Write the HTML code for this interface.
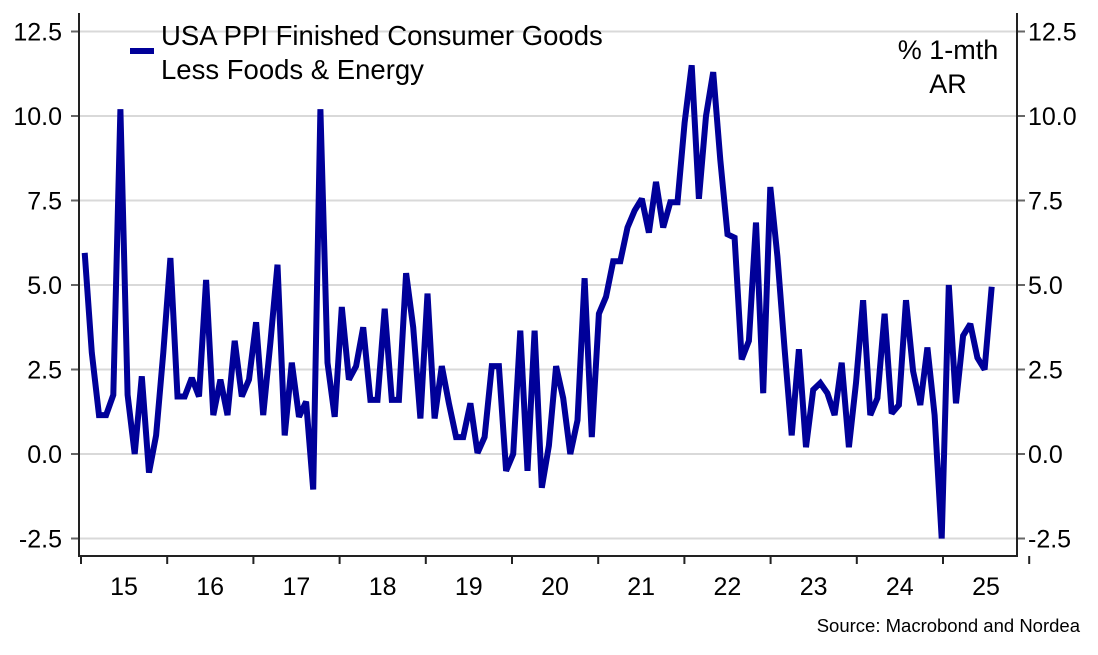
<!DOCTYPE html>
<html><head><meta charset="utf-8"><style>
html,body{margin:0;padding:0;background:#fff;}
svg{display:block;font-family:"Liberation Sans",sans-serif;}
</style></head><body>
<svg id="chart" width="1098" height="655" viewBox="0 0 1098 655" xmlns="http://www.w3.org/2000/svg">
<g id="grid"></g>
<g id="axes"></g>
<path id="series" fill="none" stroke="#000099" stroke-width="6" stroke-linejoin="miter" stroke-miterlimit="1.6"/>
<g>
<line x1="130" y1="51" x2="154" y2="51" stroke="#000099" stroke-width="6"/>
<text x="161" y="45" font-size="27.5" fill="#000">USA PPI Finished Consumer Goods</text>
<text x="161" y="79" font-size="27.5" fill="#000">Less Foods &amp; Energy</text>
</g>
<text x="948" y="59" font-size="27" text-anchor="middle">% 1-mth</text>
<text x="948" y="93" font-size="27" text-anchor="middle">AR</text>
<text x="1080" y="632" font-size="18.5" text-anchor="end">Source: Macrobond and Nordea</text>
</svg>
<script>
const values = [5.95,3.0,1.15,1.15,1.75,10.2,1.75,0.0,2.3,-0.55,0.55,3.0,5.8,1.7,1.7,2.25,1.7,5.15,1.15,2.2,1.15,3.35,1.7,2.2,3.9,1.15,3.3,5.6,0.55,2.7,1.1,1.55,-1.05,10.2,2.7,1.1,4.35,2.2,2.6,3.75,1.6,1.6,4.3,1.6,1.6,5.35,3.75,1.05,4.75,1.05,2.6,1.5,0.5,0.5,1.5,0.03,0.5,2.6,2.6,-0.5,0.0,3.65,-0.5,3.65,-1.0,0.25,2.6,1.65,0.0,1.0,5.2,0.5,4.15,4.65,5.7,5.7,6.7,7.2,7.55,6.55,8.05,6.7,7.45,7.45,9.8,11.5,7.55,10.0,11.3,8.7,6.5,6.4,2.8,3.35,6.85,1.8,7.9,5.85,3.1,0.55,3.1,0.2,1.9,2.1,1.8,1.15,2.7,0.2,2.1,4.55,1.15,1.65,4.15,1.2,1.45,4.55,2.45,1.45,3.15,1.15,-2.5,5.0,1.5,3.5,3.85,2.85,2.5,4.95];
const yTicks = [12.5,10.0,7.5,5.0,2.5,0.0,-2.5];
const yearLabels = ["15","16","17","18","19","20","21","22","23","24","25"];

const NS="http://www.w3.org/2000/svg";
const X0=84.7, X1=991.7, L=79, R=1017, T=13, B=556;
function yS(v){return 454-(v)*33.8;}
function xS(i){return X0+(X1-X0)*i/(values.length-1);}
function yearX(k){return 81+86.2*k;}
function mk(tag,attrs,parent){const e=document.createElementNS(NS,tag);for(const k in attrs)e.setAttribute(k,attrs[k]);parent.appendChild(e);return e;}
const grid=document.getElementById('grid'), axes=document.getElementById('axes'), svg=document.getElementById('chart');
yTicks.forEach(v=>{
  const y=yS(v);
  const g=mk('line',{x1:L,x2:R,y1:y,y2:y,stroke:'#d9d9d9','stroke-width':2},grid);
  
  
  mk('line',{x1:L-8,x2:L,y1:y,y2:y,stroke:'#666','stroke-width':2},axes);
  mk('line',{x1:R,x2:R+8,y1:y,y2:y,stroke:'#666','stroke-width':2},axes);
  const lab=v.toFixed(1);
  const t1=mk('text',{x:62,y:y+9,'font-size':25,'text-anchor':'end'},svg);t1.textContent=lab;
  
  
  const t2=mk('text',{x:1028,y:y+9,'font-size':25,'text-anchor':'start'},svg);t2.textContent=lab;
  
  
});
mk('line',{x1:L,x2:L,y1:T,y2:B+1,stroke:'#222','stroke-width':2},axes);
mk('line',{x1:R,x2:R,y1:T,y2:B+1,stroke:'#222','stroke-width':2},axes);
mk('line',{x1:L,x2:R,y1:B,y2:B,stroke:'#222','stroke-width':2},axes);
yearLabels.forEach((lab,k)=>{
  const x=yearX(k);
  mk('line',{x1:x,x2:x,y1:B,y2:B+8,stroke:'#222','stroke-width':2},axes);
  const t=mk('text',{x:x+43,y:595,'font-size':25,'text-anchor':'middle'},svg);t.textContent=lab;
  
  
});
mk('line',{x1:yearX(11),x2:yearX(11),y1:B,y2:B+8,stroke:'#222','stroke-width':2},axes);
document.getElementById('series').setAttribute('d',values.map((v,i)=>(i?'L':'M')+xS(i).toFixed(1)+','+yS(v).toFixed(1)).join(''));
</script>
</body></html>
